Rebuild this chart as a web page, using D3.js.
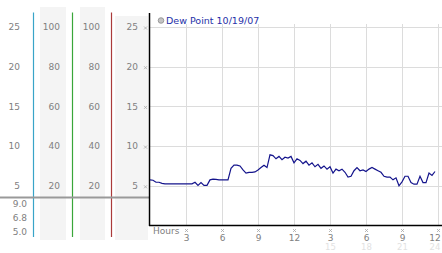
<!DOCTYPE html>
<html>
<head>
<meta charset="utf-8">
<script src="https://cdn.jsdelivr.net/npm/d3@7"></script>
<style>
  body { margin: 0; background: #fff; }
  text { font-family: "DejaVu Sans", Verdana, sans-serif; }
</style>
</head>
<body>
<svg id="main" width="442" height="253"></svg>
<script>
const width = 442;
const height = 253;

// data, one value every 15 minutes from midnight
const dewPoint = [
    5.75, 5.7, 5.45, 5.45, 5.3, 5.25, 5.25, 5.25, 5.25, 5.25, 5.25, 5.25,
    5.25, 5.25, 5.25, 5.45, 5.05, 5.4, 5.05, 5.05, 5.75, 5.85, 5.8, 5.75,
    5.75, 5.75, 5.75, 7.2, 7.6, 7.6, 7.5, 7.0, 6.6, 6.7, 6.7, 6.75,
    7.0, 7.3, 7.6, 7.3, 8.9, 8.8, 8.4, 8.7, 8.3, 8.6, 8.5, 8.7,
    7.9, 8.4, 8.2, 7.8, 8.1, 7.6, 7.9, 7.4, 7.7, 7.2, 7.5, 7.1,
    7.4, 6.6, 7.1, 6.9, 7.1, 6.7, 6.1, 6.2, 6.9, 7.3, 6.9, 7.0,
    6.8, 7.1, 7.3, 7.1, 6.9, 6.7, 6.2, 6.1, 6.1, 5.75, 6.0, 5.0,
    5.5, 6.2, 6.2, 5.4, 5.2, 5.2, 6.2, 5.4, 5.4, 6.6, 6.3, 6.8
];
const seriesName = 'Dew Point 10/19/07';
const valueTicks = [25, 20, 15, 10, 5];
const percentTicks = [100, 80, 60, 40, 20];
const hourTicks = [3, 6, 9, 12, 15, 18, 21, 24];
const hourLabels = ['3', '6', '9', '12', '3', '6', '9', '12'];
const hourLabels24 = ['', '', '', '', '15', '18', '21', '24'];
const lowLabels = ['9.0', '6.8', '5.0'];

const svg = d3.select('#main');
svg.append('rect').attr('width', width).attr('height', height).attr('fill', '#fff');

const x = d3.scaleLinear().domain([0, 24]).range([150, 438]);
const y = d3.scaleLinear().domain([0, 25]).range([225.5, 27]);
const yPct = d3.scaleLinear().domain([0, 100]).range([225.5, 27]);

// left side panels
const bands = [
    { x: 40, w: 26, top: 7 },
    { x: 80, w: 25, top: 7 },
    { x: 115, w: 33, top: 16 }
];
svg.selectAll('rect.band')
    .data(bands)
    .join('rect')
    .attr('class', 'band')
    .attr('x', d => d.x)
    .attr('y', d => d.top)
    .attr('width', d => d.w)
    .attr('height', d => 240 - d.top)
    .attr('fill', '#f4f4f4');

const colLines = [
    { x: 33.5, color: '#38a4c8' },
    { x: 72.5, color: '#3aa63a' },
    { x: 111.5, color: '#aa3a3a' }
];
svg.selectAll('line.col')
    .data(colLines)
    .join('line')
    .attr('class', 'col')
    .attr('x1', d => d.x)
    .attr('x2', d => d.x)
    .attr('y1', 12.5)
    .attr('y2', 237)
    .attr('stroke', d => d.color)
    .attr('stroke-width', 1.2);

svg.append('line')
    .attr('x1', 0).attr('x2', 149)
    .attr('y1', 197.5).attr('y2', 197.5)
    .attr('stroke', '#999').attr('stroke-width', 2);

const labelStyle = sel => sel
    .attr('text-anchor', 'end')
    .attr('dy', '0.35em')
    .attr('font-size', '9px')
    .attr('fill', '#808080');

const cols = [
    { right: 20, ticks: valueTicks, scale: y },
    { right: 60, ticks: percentTicks, scale: yPct },
    { right: 100, ticks: percentTicks, scale: yPct },
    { right: 138, ticks: valueTicks, scale: y }
];
cols.forEach(c => {
    svg.append('g')
        .selectAll('text')
        .data(c.ticks)
        .join('text')
        .attr('x', c.right)
        .attr('y', d => c.scale(d))
        .text(d => d)
        .call(labelStyle);
});

svg.append('g')
    .selectAll('text')
    .data(lowLabels)
    .join('text')
    .attr('x', 27)
    .attr('y', (d, i) => 204 + i * 14)
    .text(d => d)
    .call(labelStyle);

// grid
const grid = svg.append('g').attr('stroke', '#dcdcdc').attr('stroke-width', 1);
grid.selectAll('line.h')
    .data(valueTicks)
    .join('line')
    .attr('x1', 150).attr('x2', width)
    .attr('y1', d => Math.round(y(d)) + 0.5)
    .attr('y2', d => Math.round(y(d)) + 0.5);
grid.selectAll('line.v')
    .data(hourTicks)
    .join('line')
    .attr('x1', d => Math.round(x(d)) + 0.5)
    .attr('x2', d => Math.round(x(d)) + 0.5)
    .attr('y1', 24)
    .attr('y2', 225);

// small tick marks
const mark = 'M-1.5,-1.5L1.5,1.5M1.5,-1.5L-1.5,1.5';
svg.append('g')
    .selectAll('path')
    .data(valueTicks)
    .join('path')
    .attr('transform', d => `translate(145.5, ${y(d) + 1})`)
    .attr('d', mark)
    .attr('stroke', '#aaa')
    .attr('stroke-width', 0.8);
svg.append('g')
    .selectAll('path')
    .data(hourTicks)
    .join('path')
    .attr('transform', d => `translate(${x(d) + 0.5}, 230.5)`)
    .attr('d', mark)
    .attr('stroke', '#aaa')
    .attr('stroke-width', 0.8);

// axes
svg.append('line')
    .attr('x1', 149.5).attr('x2', 149.5)
    .attr('y1', 13).attr('y2', 226)
    .attr('stroke', '#000').attr('stroke-width', 1.5);
svg.append('line')
    .attr('x1', 149).attr('x2', width)
    .attr('y1', 225.5).attr('y2', 225.5)
    .attr('stroke', '#000').attr('stroke-width', 1.5);

// x labels, the last one pulled in so it stays inside the picture
const labelX = d => Math.min(x(d) + 0.5, width - 7);
svg.append('text')
    .attr('x', 153)
    .attr('y', 234)
    .attr('font-size', '9px')
    .attr('fill', '#808080')
    .text('Hours');
svg.append('g')
    .selectAll('text')
    .data(hourTicks)
    .join('text')
    .attr('x', labelX)
    .attr('y', 241)
    .attr('text-anchor', 'middle')
    .attr('font-size', '9px')
    .attr('fill', '#808080')
    .text((d, i) => hourLabels[i]);
svg.append('g')
    .selectAll('text')
    .data(hourTicks)
    .join('text')
    .attr('x', labelX)
    .attr('y', 250)
    .attr('text-anchor', 'middle')
    .attr('font-size', '8.5px')
    .attr('fill', '#e2e2e2')
    .text((d, i) => hourLabels24[i]);

// series line
const line = d3.line()
    .x((d, i) => x(i / 4))
    .y(d => y(d));
svg.append('path')
    .datum(dewPoint)
    .attr('d', line)
    .attr('fill', 'none')
    .attr('stroke', '#14148c')
    .attr('stroke-width', 1.2);

// legend
svg.append('circle')
    .attr('cx', 161).attr('cy', 20.5).attr('r', 2.8)
    .attr('fill', '#c4c4c4').attr('stroke', '#8a8a8a').attr('stroke-width', 0.8);
svg.append('text')
    .attr('x', 166)
    .attr('y', 24)
    .attr('font-size', '9.5px')
    .attr('fill', '#2630a8')
    .text(seriesName);
</script>
</body>
</html>
